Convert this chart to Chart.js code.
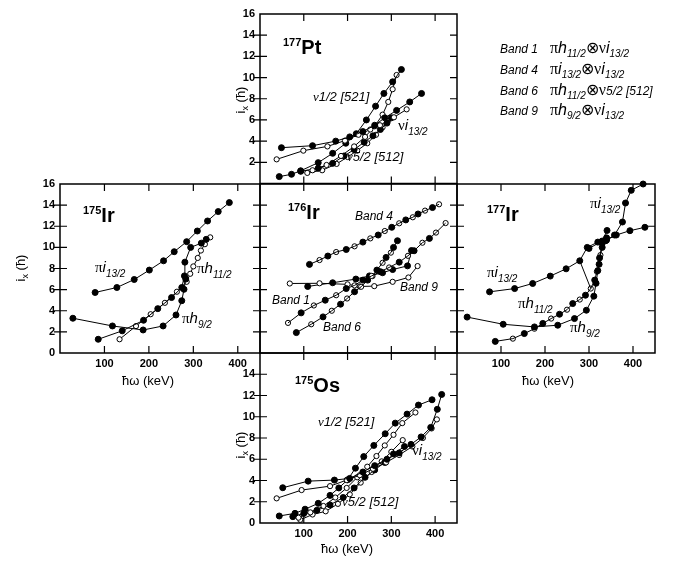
<!DOCTYPE html>
<html>
<head>
<meta charset="utf-8">
<script src="https://cdn.jsdelivr.net/npm/chart.js@4.4.1/dist/chart.umd.min.js"></script>
<style>
body { margin: 0; width: 684px; height: 564px; position: relative; background: #fff; overflow: hidden;
       font-family: "Liberation Sans", Arial, sans-serif; color: #000; }
canvas { position: absolute; left: 0; top: 0; }
.t { position: absolute; white-space: nowrap; line-height: 1; }
.iso { font-weight: bold; font-size: 20px; }
.iso sup { font-size: 11px; vertical-align: 8px; }
.lab { font-size: 15px; }
.lab sub { font-size: 10px; font-style: italic; vertical-align: -5px; }
.g { font-family: "Liberation Serif", "DejaVu Serif", serif; }
.it { font-style: italic; }
.bl { font-size: 12px; font-style: italic; }
.nl { font-size: 13px; font-style: italic; }
.ax { font-size: 13px; }
.ax sub { font-size: 9px; }
.leg { font-size: 16px; }
.leg sub { font-size: 10px; font-style: italic; vertical-align: -4px; }
</style>
</head>
<body>
<canvas id="pt" width="684" height="564"></canvas>
<canvas id="ir175" width="684" height="564"></canvas>
<canvas id="ir176" width="684" height="564"></canvas>
<canvas id="ir177" width="684" height="564"></canvas>
<canvas id="os175" width="684" height="564"></canvas>

<!-- panel names -->
<div class="t iso" style="left:283px;top:37px"><sup>177</sup>Pt</div>
<div class="t iso" style="left:83px;top:205px"><sup>175</sup>Ir</div>
<div class="t iso" style="left:288px;top:202px"><sup>176</sup>Ir</div>
<div class="t iso" style="left:487px;top:204px"><sup>177</sup>Ir</div>
<div class="t iso" style="left:295px;top:375px"><sup>175</sup>Os</div>

<!-- 177Pt labels -->
<div class="t nl" style="left:313px;top:90px"><span class="g">ν</span>1/2 [521]</div>
<div class="t lab" style="left:398px;top:117px"><span class="g">ν</span><span class="it">i</span><sub>13/2</sub></div>
<div class="t nl" style="left:347px;top:150px"><span class="g">ν</span>5/2 [512]</div>

<!-- legend -->
<div class="t bl" style="left:500px;top:43px">Band 1</div>
<div class="t leg" style="left:550px;top:40px"><span class="g">π</span><span class="it">h</span><sub>11/2</sub>⊗<span class="g">ν</span><span class="it">i</span><sub>13/2</sub></div>
<div class="t bl" style="left:500px;top:64px">Band 4</div>
<div class="t leg" style="left:550px;top:61px"><span class="g">π</span><span class="it">i</span><sub>13/2</sub>⊗<span class="g">ν</span><span class="it">i</span><sub>13/2</sub></div>
<div class="t bl" style="left:500px;top:85px">Band 6</div>
<div class="t leg" style="left:550px;top:82px"><span class="g">π</span><span class="it">h</span><sub>11/2</sub>⊗<span class="g">ν</span><span class="it" style="font-size:12px">5/2 [512]</span></div>
<div class="t bl" style="left:500px;top:105px">Band 9</div>
<div class="t leg" style="left:550px;top:102px"><span class="g">π</span><span class="it">h</span><sub>9/2</sub>⊗<span class="g">ν</span><span class="it">i</span><sub>13/2</sub></div>

<!-- 175Ir labels -->
<div class="t lab" style="left:95px;top:259px"><span class="g">π</span><span class="it">i</span><sub>13/2</sub></div>
<div class="t lab" style="left:197px;top:260px"><span class="g">π</span><span class="it">h</span><sub>11/2</sub></div>
<div class="t lab" style="left:182px;top:310px"><span class="g">π</span><span class="it">h</span><sub>9/2</sub></div>

<!-- 176Ir labels -->
<div class="t bl" style="left:355px;top:210px">Band 4</div>
<div class="t bl" style="left:272px;top:294px">Band 1</div>
<div class="t bl" style="left:323px;top:321px">Band 6</div>
<div class="t bl" style="left:400px;top:281px">Band 9</div>

<!-- 177Ir labels -->
<div class="t lab" style="left:590px;top:195px"><span class="g">π</span><span class="it">i</span><sub>13/2</sub></div>
<div class="t lab" style="left:487px;top:264px"><span class="g">π</span><span class="it">i</span><sub>13/2</sub></div>
<div class="t lab" style="left:518px;top:295px"><span class="g">π</span><span class="it">h</span><sub>11/2</sub></div>
<div class="t lab" style="left:570px;top:319px"><span class="g">π</span><span class="it">h</span><sub>9/2</sub></div>

<!-- 175Os labels -->
<div class="t nl" style="left:318px;top:415px"><span class="g">ν</span>1/2 [521]</div>
<div class="t lab" style="left:412px;top:442px"><span class="g">ν</span><span class="it">i</span><sub>13/2</sub></div>
<div class="t nl" style="left:342px;top:495px"><span class="g">ν</span>5/2 [512]</div>

<!-- axis titles -->
<div class="t ax" style="left:22px;top:268px;transform:translate(-50%,-50%) rotate(-90deg)">i<sub>x</sub> (ħ)</div>
<div class="t ax" style="left:242px;top:100px;transform:translate(-50%,-50%) rotate(-90deg)">i<sub>x</sub> (ħ)</div>
<div class="t ax" style="left:242px;top:445px;transform:translate(-50%,-50%) rotate(-90deg)">i<sub>x</sub> (ħ)</div>
<div class="t ax" style="left:148px;top:380px;transform:translate(-50%,-50%)">ħω (keV)</div>
<div class="t ax" style="left:548px;top:380px;transform:translate(-50%,-50%)">ħω (keV)</div>
<div class="t ax" style="left:347px;top:548px;transform:translate(-50%,-50%)">ħω (keV)</div>

<script>
// ---- data: [ħω (keV), ix (ħ)] ----
// 177Pt
const pt_i13_a = [[49,3.38],[120,3.57],[173,4.0],[205,4.4],[235,4.9],[262,5.5],[285,6.2],[312,6.9],[342,7.7],[369,8.5]];
const pt_i13_b = [[38,2.28],[99,3.1],[154,3.5],[194,4.05],[225,4.6],[252,5.1],[274,5.5],[306,6.25],[335,7.0]];
const pt_521_a = [[44,0.65],[72,0.87],[93,1.2],[133,1.97],[166,2.85],[196,3.8],[220,4.7],[243,6.0],[264,7.3],[283,8.5],[303,9.6],[323,10.76]];
const pt_521_b = [[120,1.25],[152,1.75],[185,2.6],[215,3.5],[240,4.4],[262,5.4],[280,6.5],[293,7.7],[303,8.9],[312,10.24]];
const pt_512_a = [[93,1.15],[133,1.45],[166,1.9],[192,2.6],[215,3.2],[238,3.9],[258,4.5],[275,5.1],[290,5.7],[300,6.2]];
const pt_512_b = [[108,1.0],[142,1.25],[175,1.85],[200,2.5],[222,3.1],[245,3.8],[265,4.6],[280,5.3],[292,5.9]];

// 175Ir
const ir175_i13 = [[79,5.73],[128,6.2],[167,6.96],[201,7.85],[233,8.73],[257,9.59],[285,10.54],[309,11.55],[332,12.5],[356,13.39],[381,14.24]];
const ir175_h11_a = [[86,1.3],[140,2.1],[188,3.1],[220,4.2],[251,5.25],[274,6.2],[280,7.3],[281,8.6],[294,10.0],[318,10.4],[329,10.76]];
const ir175_h11_b = [[134,1.3],[171,2.55],[204,3.67],[236,4.75],[263,5.8],[285,6.74],[293,7.5],[300,8.2],[310,9.0],[317,9.7],[326,10.3],[338,10.95]];
const ir175_h9 = [[29,3.29],[118,2.56],[187,2.18],[232,2.56],[261,3.6],[274,4.95],[279,6.03],[283,7.0]];

// 176Ir
const band4_a = [[113,8.39],[155,9.18],[197,9.8],[235,10.5],[270,11.17],[301,11.9],[333,12.6],[361,13.16],[394,13.77]];
const band4_b = [[136,8.8],[174,9.56],[216,10.1],[252,10.85],[285,11.55],[318,12.28],[349,12.85],[377,13.48],[409,14.08]];
const band1_a = [[94,3.8],[149,5.0],[197,6.1],[235,6.9],[275,7.7],[318,8.6],[352,9.68],[387,10.85]];
const band1_b = [[64,2.85],[123,4.5],[174,5.47],[216,6.4],[255,7.3],[295,8.1],[338,9.2],[371,10.44],[402,11.4],[424,12.3]];
const band6_a = [[83,1.93],[144,3.42],[184,4.62],[216,5.8],[246,6.9],[267,7.85],[288,9.05],[305,10.0],[314,10.63]];
const band6_b = [[117,2.72],[164,4.0],[199,5.16],[231,6.27],[257,7.28],[280,8.54],[299,9.5]];
const band9_a = [[109,6.3],[166,6.65],[219,7.0],[250,7.3],[280,7.6],[303,7.9],[337,8.25],[346,9.7]];
const band9_b = [[68,6.58],[136,6.6],[200,6.5],[228,6.3],[261,6.33],[303,6.74],[339,7.15],[360,8.23]];

// 177Ir
const ir177_i13 = [[74,5.79],[131,6.1],[172,6.58],[212,7.28],[248,7.97],[279,8.73],[296,10.0],[320,10.5],[340,10.7],[362,11.17],[393,11.58],[427,11.9]];
const ir177_i13_b = [[300,9.9],[330,10.6],[341,11.6]];
const ir177_link = [[279,8.73],[304,6.1]];
const ir177_h11_a = [[87,1.1],[153,1.84],[195,2.8],[233,3.67],[263,4.68],[292,5.47],[313,6.9],[323,8.4],[330,10.0],[338,10.63],[358,11.17],[376,12.4],[383,14.2],[396,15.4],[423,16.0]];
const ir177_h11_b = [[127,1.36],[176,2.3],[214,3.26],[250,4.1],[279,5.06],[304,6.1],[318,7.7],[326,9.27]];
const ir177_h9 = [[23,3.4],[105,2.72],[176,2.47],[229,2.63],[267,3.26],[294,4.05],[311,5.38],[316,6.6],[320,7.8],[324,9.0],[330,10.4],[340,10.9]];

// 175Os
const os_i13_a = [[52,3.32],[110,3.94],[170,4.04],[205,4.2],[235,4.8],[262,5.4],[290,6.0],[318,6.6],[345,7.4],[368,8.1],[390,9.0],[405,10.7],[415,12.1]];
const os_i13_b = [[38,2.32],[95,3.1],[160,3.47],[198,4.04],[228,4.5],[258,5.1],[288,5.7],[318,6.4],[348,7.2],[372,8.0],[392,8.9],[404,9.75]];
const os_521_a = [[44,0.66],[80,0.91],[103,1.3],[133,1.85],[160,2.6],[180,3.3],[200,4.06],[218,5.16],[237,6.25],[260,7.3],[286,8.4],[309,9.4],[336,10.25],[362,11.1],[393,11.6]];
const os_521_b = [[88,0.5],[115,1.0],[145,1.6],[172,2.4],[198,3.3],[222,4.3],[245,5.3],[266,6.3],[285,7.3],[305,8.3],[325,9.4],[355,10.4]];
const os_512_a = [[75,0.6],[100,0.9],[130,1.2],[160,1.7],[190,2.4],[215,3.3],[240,4.3],[262,5.0],[285,5.7],[305,6.5],[330,7.2]];
const os_512_b = [[92,0.3],[120,0.8],[150,1.1],[178,1.8],[205,2.7],[230,3.8],[255,4.8],[278,5.8],[300,6.7],[326,7.8]];

const xTicks = [100, 200, 300, 400];
const yTicks = [2, 4, 6, 8, 10, 12, 14];

// ---- helpers ----
function band(data, open) {
  return {
    data: data.map(p => ({ x: p[0], y: p[1] })),
    showLine: true, borderColor: '#000', borderWidth: 1, tension: 0, clip: false,
    pointRadius: open ? 2.6 : 3, pointBorderWidth: 1,
    pointBackgroundColor: open ? '#fff' : '#000', pointBorderColor: '#000'
  };
}
// two signatures drawn along one line
function pair(a, b) {
  const all = a.concat(b).sort((p, q) => p[0] - q[0]);
  return [
    Object.assign(band(all, false), { pointRadius: 0 }),
    Object.assign(band(a, false), { showLine: false }),
    Object.assign(band(b, true), { showLine: false })
  ];
}
function link(data) {
  return Object.assign(band(data, false), { pointRadius: 0 });
}

// border + inner ticks
const frame = {
  id: 'frame',
  afterDatasetsDraw(chart) {
    const { ctx, chartArea: a, scales: { x, y } } = chart;
    const o = chart.options.plugins.frame;
    ctx.save();
    ctx.strokeStyle = '#000';
    ctx.lineWidth = 1.5;
    ctx.strokeRect(a.left, a.top, a.right - a.left, a.bottom - a.top);
    ctx.lineWidth = 1.2;
    ctx.beginPath();
    xTicks.forEach(v => {
      const px = x.getPixelForValue(v);
      ctx.moveTo(px, a.top); ctx.lineTo(px, a.top + 7);
      ctx.moveTo(px, a.bottom); ctx.lineTo(px, a.bottom - 7);
    });
    yTicks.forEach(v => {
      const py = y.getPixelForValue(v);
      ctx.moveTo(a.left - (o.outLeft ? 6 : 0), py); ctx.lineTo(a.left + 7, py);
      ctx.moveTo(a.right, py); ctx.lineTo(a.right - 7, py);
    });
    ctx.stroke();
    ctx.restore();
  }
};

const tickFont = { family: '"Liberation Sans", Arial, sans-serif', size: 11, weight: 'bold' };

function panel(id, box, datasets, opt) {
  const yw = 30, xh = 22;
  new Chart(document.getElementById(id), {
    type: 'scatter',
    data: { datasets: datasets },
    options: {
      responsive: false, animation: false, events: [],
      layout: { padding: { left: box[0] - yw, top: box[1], right: 684 - box[2], bottom: 564 - box[3] - xh } },
      plugins: { legend: { display: false }, tooltip: { enabled: false }, frame: { outLeft: !!opt.yLab } },
      scales: {
        x: {
          type: 'linear', min: 0, max: 450,
          afterFit: s => { s.height = xh; },
          grid: { display: false, drawTicks: false }, border: { display: false },
          ticks: {
            display: !!opt.xLab, stepSize: 100, includeBounds: false, autoSkip: false, maxRotation: 0, padding: 4,
            color: '#000', font: tickFont,
            callback: v => (v > 0 && v < 450 ? v : '')
          }
        },
        y: {
          type: 'linear', min: 0, max: 16,
          afterFit: s => { s.width = yw; },
          grid: { display: false, drawTicks: false }, border: { display: false },
          ticks: {
            display: !!opt.yLab, stepSize: 2, autoSkip: false, padding: 5,
            color: '#000', font: tickFont,
            callback: v => (opt.yLab && opt.yLab.includes(v) ? v : '')
          }
        }
      }
    },
    plugins: [frame]
  });
}

panel('pt', [260, 14, 457, 183.5], [
  band(pt_i13_a, false), band(pt_i13_b, true),
  band(pt_521_a, false), band(pt_521_b, true),
  band(pt_512_a, false), band(pt_512_b, true)
], { yLab: [2, 4, 6, 8, 10, 12, 14, 16] });

panel('ir175', [60, 184, 260, 353], [
  band(ir175_i13, false),
  band(ir175_h9, false),
  band(ir175_h11_a, false), band(ir175_h11_b, true)
], { yLab: [0, 2, 4, 6, 8, 10, 12, 14, 16], xLab: true });

panel('ir176', [260, 184, 457, 353], [].concat(
  pair(band4_a, band4_b), pair(band1_a, band1_b), pair(band6_a, band6_b),
  [band(band9_b, true), band(band9_a, false)]
), {});

panel('ir177', [457, 184, 655, 353], [
  link(ir177_link),
  band(ir177_i13, false), band(ir177_i13_b, false),
  band(ir177_h9, false)
].concat(pair(ir177_h11_a, ir177_h11_b)), { xLab: true });

panel('os175', [260, 353, 457, 523], [
  band(os_i13_a, false), band(os_i13_b, true),
  band(os_521_a, false), band(os_521_b, true),
  band(os_512_a, false), band(os_512_b, true)
], { yLab: [0, 2, 4, 6, 8, 10, 12, 14], xLab: true });
</script>
</body>
</html>
